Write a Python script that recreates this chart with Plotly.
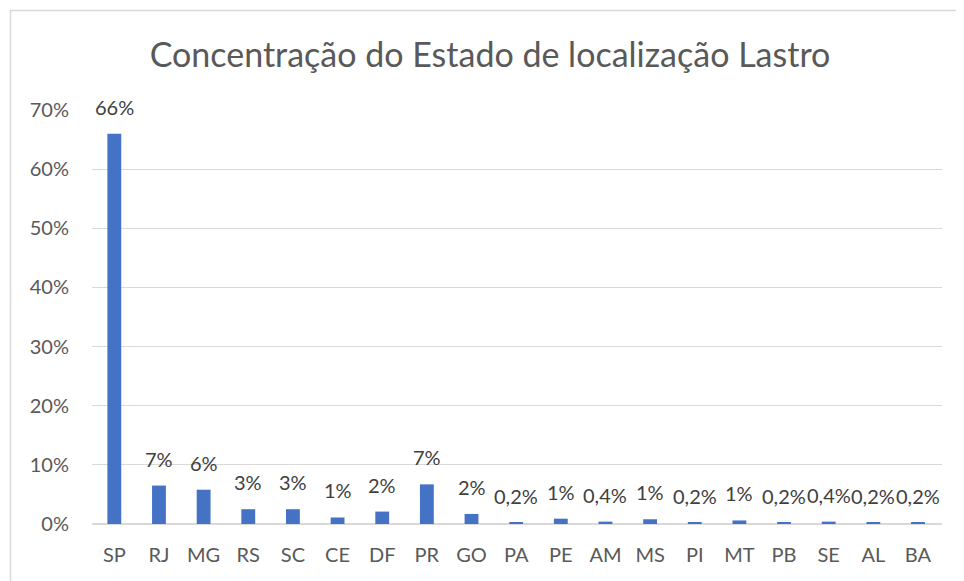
import plotly.graph_objects as go

states = ["SP", "RJ", "MG", "RS", "SC", "CE", "DF", "PR", "GO", "PA", "PE", "AM", "MS", "PI", "MT", "PB", "SE", "AL", "BA"]
shares = [66.0, 6.5, 5.8, 2.5, 2.5, 1.1, 2.1, 6.7, 1.7, 0.2, 0.9, 0.4, 0.8, 0.2, 0.6, 0.2, 0.4, 0.2, 0.2]
labels = ["66%", "7%", "6%", "3%", "3%", "1%", "2%", "7%", "2%", "0,2%", "1%", "0,4%", "1%", "0,2%", "1%", "0,2%", "0,4%", "0,2%", "0,2%"]
y_ticks = [0, 10, 20, 30, 40, 50, 60, 70]
y_tick_text = ["0%", "10%", "20%", "30%", "40%", "50%", "60%", "70%"]

OFF = 8  # browser body margin
W, H = 964 - OFF, 581 - OFF
L, R, T, B = 92 - OFF, 942 - OFF, 110 - OFF, 524 - OFF

fig = go.Figure(go.Bar(
    x=states, y=shares,
    marker=dict(color="#4472C4", line=dict(width=0)),
    width=0.31, cliponaxis=False, hoverinfo="x+y",
))

for s, v, t in zip(states, shares, labels):
    fig.add_annotation(x=s, y=v, text=t, showarrow=False, xanchor="center",
                       yanchor="bottom", yshift=13,
                       font=dict(size=20, color="#404040", family="Lato"))

fig.update_layout(
    width=W, height=H,
    margin=dict(l=L, r=W - R, t=T, b=H - B, pad=0),
    paper_bgcolor="white", plot_bgcolor="white",
    font=dict(family="Lato", color="#595959", size=20),
    title=dict(text="Concentração do Estado de localização Lastro",
               x=(490 - OFF) / W, xanchor="center", y=1 - (55 - OFF) / H, yanchor="middle",
               font=dict(size=34, color="#595959")),
    showlegend=False,
    xaxis=dict(showgrid=False, showline=False, ticks="", ticklabelstandoff=17,
               tickfont=dict(size=20)),
    yaxis=dict(range=[0, 70], tickvals=y_ticks, ticktext=y_tick_text,
               showgrid=True, gridcolor="#d9d9d9", gridwidth=1.2,
               zeroline=True, zerolinecolor="#d9d9d9", zerolinewidth=1.5,
               ticks="", ticklabelstandoff=22, tickfont=dict(size=20)),
)

pw, ph = R - L, B - T
fig.add_shape(type="rect", xref="paper", yref="paper",
              x0=(10.5 - OFF - L) / pw, x1=(1000 - L) / pw,
              y0=(B - 640) / ph, y1=(B - (10.5 - OFF)) / ph,
              line=dict(color="#d9d9d9", width=1.5), fillcolor="rgba(0,0,0,0)", layer="below")

fig.write_html("out.html")
